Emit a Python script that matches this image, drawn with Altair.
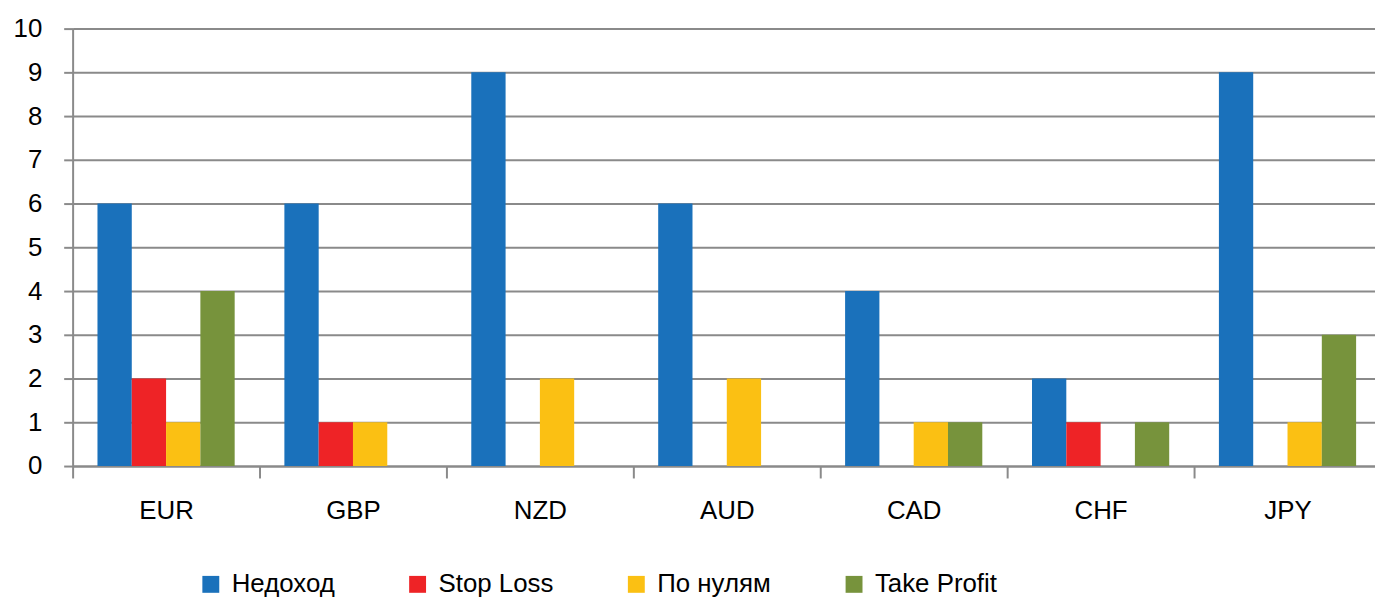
import altair as alt
import pandas as pd

categories = ["EUR", "GBP", "NZD", "AUD", "CAD", "CHF", "JPY"]
series = ["Недоход", "Stop Loss", "По нулям", "Take Profit"]
nedohod = [6, 6, 9, 6, 4, 2, 9]
stop_loss = [2, 1, 0, 0, 0, 1, 0]
po_nulyam = [1, 1, 2, 2, 1, 0, 1]
take_profit = [4, 0, 0, 0, 1, 1, 3]
colors = ["#1a71bb", "#ee2326", "#fbc013", "#77933c"]
y_ticks = list(range(0, 11))

values = [nedohod, stop_loss, po_nulyam, take_profit]
rows = []
for s, vals in zip(series, values):
    for c, v in zip(categories, vals):
        rows.append({"cat": c, "series": s, "value": v})
df = pd.DataFrame(rows)

FONT = "Liberation Sans, Arial, sans-serif"
GRID = "#8a8a8a"

chart = alt.Chart(df).mark_bar().encode(
    x=alt.X(
        "cat:N",
        sort=categories,
        scale=alt.Scale(paddingInner=0, paddingOuter=0),
        axis=alt.Axis(
            title=None, labelAngle=0, tickBand="extent", tickSize=12,
            tickColor=GRID, tickWidth=2, domainColor=GRID, domainWidth=2,
            labelFont=FONT, labelFontSize=26, labelColor="#000000",
            labelPadding=20, grid=False,
        ),
    ),
    xOffset=alt.XOffset("series:N", sort=series,
                        scale=alt.Scale(paddingInner=0, paddingOuter=0.7246)),
    y=alt.Y(
        "value:Q",
        scale=alt.Scale(domain=[0, 10], nice=False),
        axis=alt.Axis(
            title=None, values=y_ticks, tickSize=9, tickColor=GRID, tickWidth=2,
            domainColor=GRID, domainWidth=2, gridColor=GRID, gridWidth=2,
            labelFont=FONT, labelFontSize=26, labelColor="#000000",
            labelPadding=22,
        ),
    ),
    color=alt.Color(
        "series:N",
        sort=series,
        scale=alt.Scale(domain=series, range=colors),
        legend=alt.Legend(
            title=None, orient="none", direction="horizontal",
            legendX=126, legendY=546, symbolType="square", symbolSize=289,
            symbolStrokeWidth=0, labelFont=FONT, labelFontSize=26,
            labelColor="#000000", labelOffset=8, columnPadding=70, padding=0,
        ),
    ),
).properties(
    width=1316,
    height=440,
    autosize=alt.AutoSizeParams(type="none"),
    padding={"left": 65, "top": 19, "right": -6, "bottom": 130},
).configure_view(strokeWidth=0)

chart.save("out.html", embed_options={"renderer": "svg", "actions": False})
